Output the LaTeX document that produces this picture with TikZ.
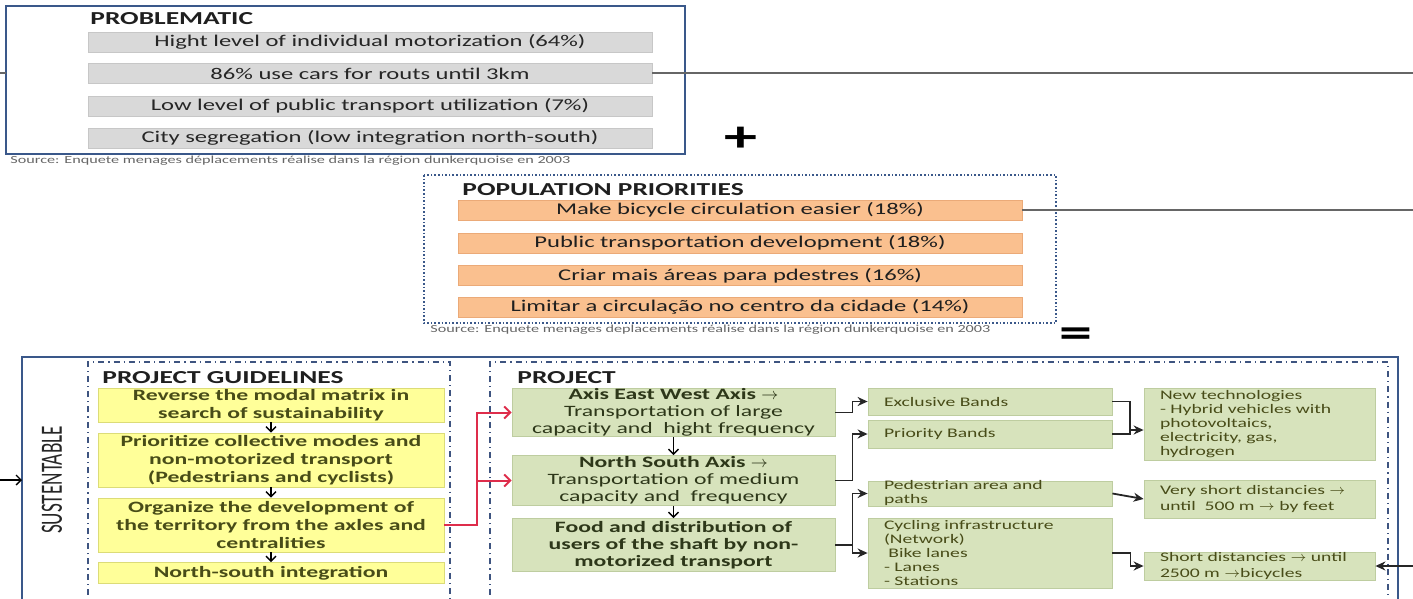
\documentclass[tikz,border=0pt]{standalone}
\usepackage{fontspec}
\setmainfont{Carlito}[FakeStretch=1.5]
\newfontfamily\narrowFont{Carlito}[FakeStretch=0.62]
\usetikzlibrary{arrows.meta}
\definecolor{frameColor}{RGB}{58,88,138}
\definecolor{dashColor}{RGB}{62,84,128}
\definecolor{barGray}{RGB}{217,217,217}
\definecolor{barOrange}{RGB}{250,192,143}
\definecolor{orangeEdge}{RGB}{235,170,120}
\definecolor{barYellow}{RGB}{255,255,153}
\definecolor{yellowEdge}{RGB}{220,220,120}
\definecolor{barGreen}{RGB}{215,227,188}
\definecolor{greenEdge}{RGB}{190,205,160}
\definecolor{lineRed}{RGB}{222,45,75}
\definecolor{oliveText}{RGB}{72,76,24}
\definecolor{greenText}{RGB}{45,55,25}
\tikzstyle{boxBase} = [inner sep=0pt, align=center]
\tikzstyle{grayBarStyle} = [boxBase, draw=black!22, fill=barGray, minimum width=282pt, minimum height=10pt, text=black!85, font=\fontsize{8.2}{9}\selectfont]
\tikzstyle{orangeBarStyle} = [boxBase, draw=orangeEdge, fill=barOrange, minimum width=282pt, minimum height=10pt, text=black!88, font=\fontsize{8.2}{9}\selectfont]
\tikzstyle{yellowBoxStyle} = [boxBase, draw=yellowEdge, fill=barYellow, minimum width=173pt, text=oliveText, font=\bfseries\fontsize{7.9}{8.85}\selectfont]
\tikzstyle{greenBoxStyle} = [boxBase, draw=greenEdge, fill=barGreen, minimum width=161.5pt, text=greenText, font=\fontsize{7.9}{8.5}\selectfont]
\tikzstyle{greenBoldStyle} = [greenBoxStyle, font=\bfseries\fontsize{7.9}{8.5}\selectfont]
\tikzstyle{smallGreenStyle} = [draw=greenEdge, fill=barGreen, inner ysep=0pt, inner xsep=8pt, align=left, text=oliveText, font=\fontsize{6.55}{7}\selectfont]
\tikzstyle{arrowTextStyle} = [smallGreenStyle, font=\fontsize{6.55}{7.8}\selectfont]
\tikzstyle{titleStyle} = [anchor=base west, inner sep=0pt, text=black!88, font=\bfseries\fontsize{9.15}{10}\selectfont]
\tikzstyle{sourceStyle} = [anchor=west, inner sep=0pt, text=black!60, font=\fontsize{5.4}{6}\selectfont]
\tikzstyle{downArrow} = [-{Straight Barb[length=2.5pt,width=5pt]}, line width=0.7pt]
\tikzstyle{branchArrow} = [-{Stealth[length=5pt,width=4.5pt]}, line width=0.9pt, black!85]
\tikzstyle{redArrow} = [-{Straight Barb[length=3pt,width=6pt]}, line width=1pt, lineRed]
\tikzstyle{outLine} = [line width=1pt, black!60]
\tikzstyle{dashFrame} = [dashColor, line width=0.6pt, dash dot]
\newcommand{\grayBar}[3]{\node [grayBarStyle] (#1) at (370,#2) {#3};}
\newcommand{\orangeBar}[3]{\node [orangeBarStyle] (#1) at (740,#2) {#3};}

\begin{document}
\begin{tikzpicture}[x=0.5pt, y=-0.5pt]
  \useasboundingbox (0,0) rectangle (1413,599);

  % problematic
  \draw [frameColor, line width=0.8pt] (6,6) rectangle (685,154);
  \node [titleStyle] (probTitle) at (90,25) {PROBLEMATIC};
  \grayBar{probA}{42}{Hight level of individual motorization (64\%)}
  \grayBar{probB}{73.5}{86\% use cars for routs until 3km}
  \grayBar{probC}{106}{Low level of public transport utilization (7\%)}
  \grayBar{probD}{138}{City segregation (low integration north-south)}
  \node [sourceStyle] (probSource) at (10,161) {Source: Enquete menages déplacements réalise dans la région dunkerquoise en 2003};
  \coordinate (probIn) at (0,73.5);
  \coordinate (probEdge) at (6,73.5);
  \coordinate (probOut) at (1413,73.5);
  \draw [outLine] (probIn) -- (probEdge);
  \draw [outLine] (probB.east) -- (probOut);

  \node [font=\bfseries\fontsize{22}{22}\selectfont] (plusSign) at (741,139) {+};

  % population priorities
  \draw [frameColor, line width=0.8pt, densely dotted] (424,175) rectangle (1056,323);
  \node [titleStyle] (popTitle) at (462,195) {POPULATION PRIORITIES};
  \orangeBar{popA}{210}{Make bicycle circulation easier (18\%)}
  \orangeBar{popB}{243}{Public transportation development (18\%)}
  \orangeBar{popC}{275.5}{Criar mais áreas para pdestres (16\%)}
  \orangeBar{popD}{307}{Limitar a circulação no centro da cidade (14\%)}
  \node [sourceStyle] (popSource) at (430,330) {Source: Enquete menages deplacements réalise dans la région dunkerquoise en 2003};
  \coordinate (popOut) at (1413,210);
  \draw [outLine] (popA.east) -- (popOut);

  \node [font=\bfseries\fontsize{22}{22}\selectfont] (equalSign) at (1076,338) {=};

  % sustentable
  \draw [frameColor, line width=1.3pt] (22,610) -- (22,357) -- (1398,357) -- (1398,610);
  \node [rotate=90, text=black!85, inner sep=0pt] (sustTitle) at (52,480) {\narrowFont\fontsize{15.5}{16}\selectfont SUSTENTABLE};
  \coordinate (sustIn) at (0,480);
  \coordinate (sustEdge) at (22,480);
  \draw [downArrow, line width=0.7pt] (sustIn) -- (sustEdge);

  % guidelines
  \draw [dashFrame] (88,610) -- (88,362) -- (450,362) -- (450,610);
  \node [titleStyle] (guideTitle) at (102,383) {PROJECT GUIDELINES};
  \node [yellowBoxStyle, minimum height=17pt] (guideA) at (271,405) {Reverse the modal matrix in\\search of sustainability};
  \node [yellowBoxStyle, minimum height=27pt] (guideB) at (271,460) {Prioritize collective modes and\\non-motorized transport\\(Pedestrians and cyclists)};
  \node [yellowBoxStyle, minimum height=27pt] (guideC) at (271,525) {Organize the development of\\the territory from the axles and\\centralities};
  \node [yellowBoxStyle, minimum height=10.5pt] (guideD) at (271,573) {North-south integration};
  \foreach \a/\b in {guideA/guideB, guideB/guideC, guideC/guideD}
    \draw [downArrow] (\a) -- (\b);

  % project
  \draw [dashFrame] (490,610) -- (490,362) -- (1388,362) -- (1388,610);
  \node [titleStyle] (projTitle) at (517,383) {PROJECT};
  \node [greenBoxStyle, minimum height=23.5pt] (axisEW) at (673.5,412.5) {\textbf{Axis East West Axis $\rightarrow$}\\Transportation of large\\capacity and\ \ hight frequency};
  \node [greenBoxStyle, minimum height=25pt] (axisNS) at (673.5,480.5) {\textbf{North South Axis $\rightarrow$}\\Transportation of medium\\capacity and\ \ frequency};
  \node [greenBoldStyle, minimum height=26.5pt] (feedUsers) at (673.5,545) {Food and distribution of\\users of the shaft by non-\\motorized transport};
  \foreach \a/\b in {axisEW/axisNS, axisNS/feedUsers}
    \draw [downArrow] (\a) -- (\b);

  \node [smallGreenStyle, text width=106pt, minimum height=13.5pt] (exclBand) at (990,401.5) {Exclusive Bands};
  \node [smallGreenStyle, text width=106pt, minimum height=14pt] (prioBand) at (990,434) {Priority Bands};
  \node [smallGreenStyle, text width=106pt, minimum height=11.5pt] (pedArea) at (990,493.5) {Pedestrian area and\\paths};
  \node [smallGreenStyle, text width=106pt, minimum height=35pt] (cycInfra) at (990,553) {Cycling infrastructure\\(Network)\\\ Bike lanes\\- Lanes\\- Stations};

  \node [smallGreenStyle, text width=99.5pt, minimum height=36pt] (newTech) at (1259.5,424) {New technologies\\- Hybrid vehicles with\\photovoltaics,\\electricity, gas,\\hydrogen};
  \node [arrowTextStyle, text width=99.5pt, minimum height=19pt] (veryShort) at (1259.5,499) {Very short distancies $\rightarrow$\\until\ \ 500 m $\rightarrow$ by feet};
  \node [arrowTextStyle, text width=99.5pt, minimum height=14pt] (shortDist) at (1259.5,566) {Short distancies $\rightarrow$ until\\2500 m $\rightarrow$bicycles};

  % connectors
  \draw [redArrow] (guideC.east) -- ++(33,0) |- (axisEW);
  \draw [redArrow] (guideC.east) -- ++(33,0) |- (axisNS);
  \draw [branchArrow] (axisEW.east) -- ++(17,0) |- (exclBand);
  \draw [branchArrow] (axisNS.east) -- ++(17,0) |- (prioBand);
  \draw [branchArrow] (feedUsers.east) -- ++(17,0) |- (pedArea);
  \draw [branchArrow] (feedUsers.east) -- ++(17,0) |- (cycInfra);
  \coordinate (techJoin) at (1130,430);
  \draw [line width=0.9pt, black!85] (exclBand.east) -| (techJoin);
  \draw [line width=0.9pt, black!85] (prioBand.east) -| (techJoin);
  \draw [branchArrow] (techJoin) -- (techJoin -| newTech.west);
  \draw [branchArrow] (pedArea.east) -- (veryShort.west);
  \draw [branchArrow] (cycInfra.east) -- ++(18,0) |- (shortDist);
  \coordinate (shortIn) at (1413,566);
  \draw [branchArrow] (shortIn) -- (shortDist.east);
\end{tikzpicture}
\end{document}
